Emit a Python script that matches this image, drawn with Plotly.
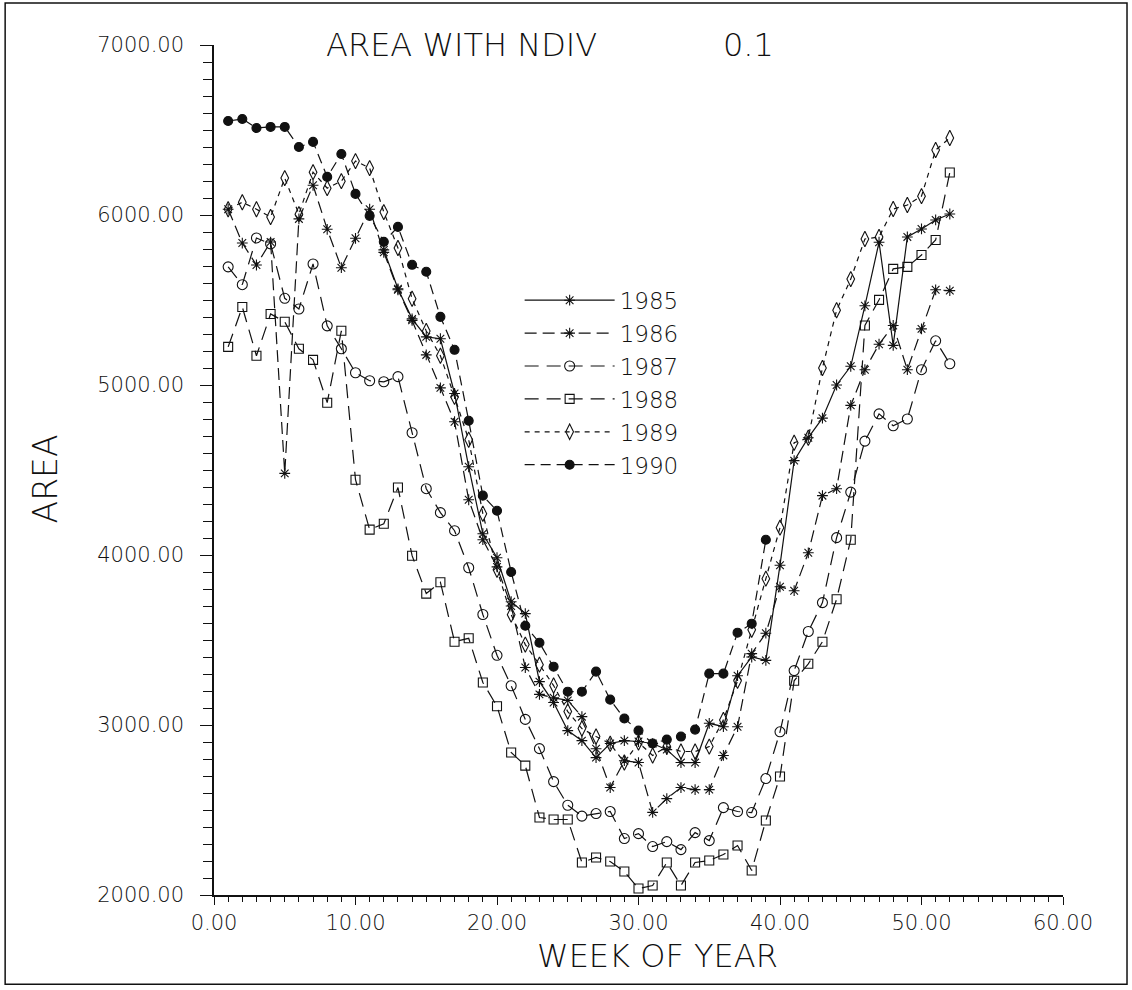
import plotly.graph_objects as go

WEEKS = [1, 2, 3, 4, 5, 6, 7, 8, 9, 10, 11, 12, 13, 14, 15, 16, 17, 18, 19, 20,
         21, 22, 23, 24, 25, 26, 27, 28, 29, 30, 31, 32, 33, 34, 35, 36, 37, 38, 39, 40,
         41, 42, 43, 44, 45, 46, 47, 48, 49, 50, 51, 52]

# 1985 starts at week 12
AREA_1985 = [5795, 5566, 5389, 5283, 5272, 4950, 4519, 4125, 3984,
             3725, 3655, 3255, 3132, 2967, 2908, 2808, 2891, 2908, 2903,
             2891, 2855, 2779, 2779, 3010, 2990, 3290, 3400, 3380, 3940,
             4555, 4690, 4805, 5000, 5110, 5466, 5840, 5233, 5871, 5918,
             5971, 6006]
AREA_1986 = [6034, 5835, 5706, 5841, 4480, 5977, 6175, 5916, 5690, 5863,
             6034, 5780, 5560, 5380, 5177, 4983, 4784, 4325, 4090, 3930,
             3700, 3338, 3180, 3160, 3145, 3049, 2860, 2632, 2790, 2779,
             2486, 2567, 2632, 2620, 2620, 2821, 2990, 3420, 3540, 3813,
             3790, 4013, 4349, 4390, 4880, 5090, 5240, 5350, 5090, 5330,
             5560, 5555]
AREA_1987 = [5695, 5590, 5865, 5830, 5510, 5447, 5712, 5348, 5213, 5072,
             5025, 5019, 5049, 4719, 4390, 4249, 4143, 3925, 3650, 3410,
             3231, 3033, 2861, 2667, 2528, 2464, 2479, 2491, 2332, 2361,
             2285, 2314, 2267, 2367, 2320, 2514, 2491, 2485, 2685, 2960,
             3320, 3550, 3720, 4102, 4370, 4670, 4830, 4760, 4800, 5090,
             5260, 5125]
AREA_1988 = [5224, 5459, 5172, 5418, 5372, 5213, 5148, 4896, 5319, 4443,
             4149, 4184, 4397, 3996, 3773, 3840, 3490, 3510, 3250, 3110,
             2838, 2761, 2456, 2444, 2444, 2191, 2221, 2197, 2138, 2038,
             2056, 2191, 2056, 2191, 2203, 2238, 2291, 2144, 2438, 2697,
             3260, 3360, 3490, 3740, 4090, 5350, 5501, 5683, 5695, 5765,
             5853, 6250]
AREA_1989 = [6034, 6075, 6034, 5988, 6217, 6005, 6252, 6158, 6199, 6317,
             6276, 6017, 5806, 5507, 5318, 5172, 4930, 4678, 4243, 3913,
             3649, 3473, 3355, 3232, 3079, 2979, 2932, 2890, 2779, 2897,
             2821, 2873, 2844, 2844, 2873, 3030, 3260, 3560, 3861, 4161,
             4660, 4690, 5100, 5440, 5623, 5859, 5871, 6035, 6059, 6111,
             6382, 6453]
# 1990 ends at week 39
AREA_1990 = [6553, 6565, 6512, 6518, 6518, 6400, 6430, 6224, 6359, 6124,
             5995, 5842, 5930, 5707, 5666, 5401, 5207, 4790, 4349, 4260,
             3900, 3584, 3484, 3343, 3196, 3196, 3314, 3149, 3038, 2967,
             2891, 2914, 2932, 2973, 3302, 3302, 3543, 3596, 4090]

X_TICKS = [0, 10, 20, 30, 40, 50, 60]
Y_TICKS = [2000, 3000, 4000, 5000, 6000, 7000]

FONT = "DejaVu Sans"
INK = "#111111"

series = [
    ("1985", WEEKS[11:], AREA_1985, "asterisk-open", "solid", 9),
    ("1986", WEEKS, AREA_1986, "asterisk-open", "12px,6px", 9),
    ("1987", WEEKS, AREA_1987, "circle-open", "14px,8px", 10),
    ("1988", WEEKS, AREA_1988, "square-open", "14px,8px", 9),
    ("1989", WEEKS, AREA_1989, "diamond-tall-open", "5px,5px", 11),
    ("1990", WEEKS[:len(AREA_1990)], AREA_1990, "circle", "10px,6px", 9),
]

fig = go.Figure()
for name, xs, ys, sym, dash, size in series:
    fig.add_trace(go.Scatter(
        x=xs, y=ys, name=name, mode="lines+markers",
        line=dict(color=INK, width=1.2, dash=dash),
        marker=dict(symbol=sym, size=size, color=INK,
                    line=dict(color=INK, width=1.1)),
    ))

fig.update_layout(
    width=1132, height=990,
    margin=dict(l=214, r=69, t=45, b=95),
    paper_bgcolor="white", plot_bgcolor="white",
    font=dict(family=FONT, color=INK, size=20),
    showlegend=True,
    legend=dict(
        x=0.36, y=0.725, xanchor="left", yanchor="top",
        bgcolor="rgba(0,0,0,0)", itemwidth=90,
        font=dict(family=FONT, size=23, color=INK, weight=200),
        tracegroupgap=0,
    ),
    xaxis=dict(
        range=[0, 60], tickvals=X_TICKS, tickformat=".2f",
        showline=True, linecolor=INK, linewidth=1.5, mirror=False,
        ticks="outside", ticklen=8, tickwidth=1.2, tickcolor=INK,
        minor=dict(dtick=1, ticks="outside", ticklen=5, tickwidth=1, tickcolor=INK),
        showgrid=False, zeroline=False,
        tickfont=dict(family=FONT, size=21, color=INK, weight=200),
    ),
    yaxis=dict(
        range=[2000, 7000], tickvals=Y_TICKS, tickformat=".2f",
        showline=True, linecolor=INK, linewidth=1.5, mirror=False,
        ticks="outside", ticklen=12, tickwidth=1.2, tickcolor=INK,
        minor=dict(dtick=100, ticks="outside", ticklen=9, tickwidth=1, tickcolor=INK),
        showgrid=False, zeroline=False, ticklabelstandoff=12,
        tickfont=dict(family=FONT, size=21, color=INK, weight=200),
    ),
)

# Titles
fig.add_annotation(text="AREA WITH NDIV", x=0.291, y=1.0, xref="paper", yref="paper",
                   xanchor="center", yanchor="middle", showarrow=False,
                   font=dict(family=FONT, size=32, color=INK, weight=200))
fig.add_annotation(text="0.1", x=0.63, y=1.0, xref="paper", yref="paper",
                   xanchor="center", yanchor="middle", showarrow=False,
                   font=dict(family=FONT, size=32, color=INK, weight=200))
fig.add_annotation(text="WEEK OF YEAR", x=0.522, y=-0.072, xref="paper", yref="paper",
                   xanchor="center", yanchor="middle", showarrow=False,
                   font=dict(family=FONT, size=32, color=INK, weight=200))
fig.add_annotation(text="AREA", x=-0.199, y=0.489, xref="paper", yref="paper",
                   xanchor="center", yanchor="middle", showarrow=False, textangle=-90,
                   font=dict(family=FONT, size=33, color=INK, weight=200))

# Outer frame of the page
fig.add_shape(type="rect", xref="paper", yref="paper",
              x0=-0.246, x1=1.0754, y0=-0.105, y1=1.0494,
              line=dict(color=INK, width=1.5), fillcolor="rgba(0,0,0,0)", layer="below")

fig.write_html("out.html")
